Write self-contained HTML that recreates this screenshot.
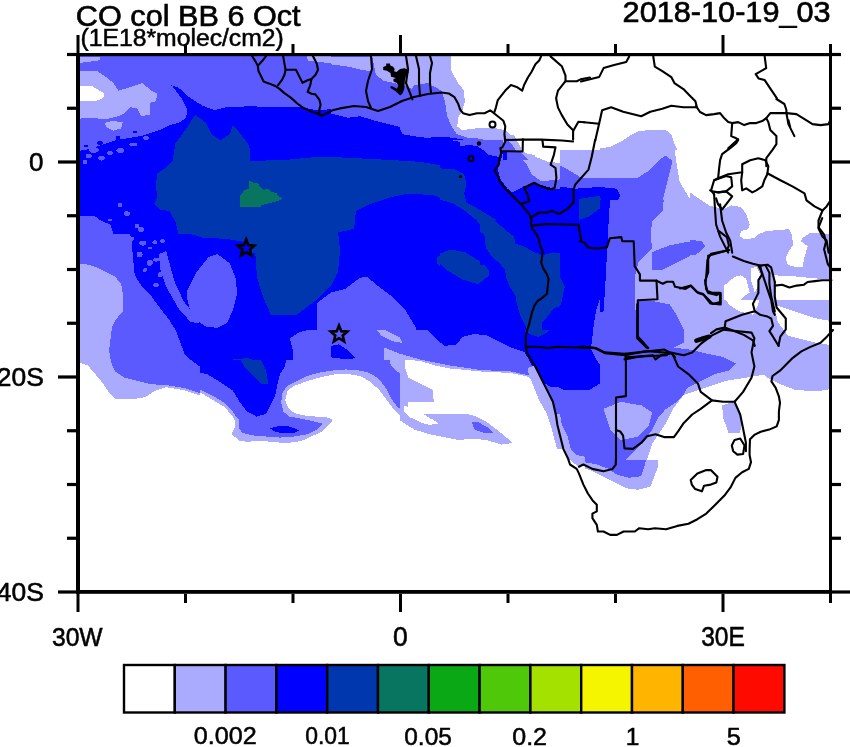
<!DOCTYPE html><html><head><meta charset="utf-8"><style>html,body{margin:0;padding:0;background:#fff;}svg{display:block}text{font-family:"Liberation Sans",sans-serif;fill:#000}</style></head><body>
<svg width="850" height="747" viewBox="0 0 850 747">
<defs>
<clipPath id="c0"><rect x="76" y="53" width="255" height="181"/></clipPath>
<clipPath id="c1"><rect x="76" y="234" width="255" height="180"/></clipPath>
<clipPath id="c2"><rect x="331" y="53" width="254" height="181"/></clipPath>
<clipPath id="c3"><rect x="585" y="53" width="247" height="181"/></clipPath>
<clipPath id="c4"><rect x="331" y="302" width="254" height="112"/></clipPath>
<clipPath id="c5"><rect x="585" y="234" width="247" height="180"/></clipPath>
<clipPath id="c6"><rect x="76" y="414" width="255" height="181"/></clipPath>
<clipPath id="c7"><rect x="331" y="414" width="254" height="181"/></clipPath>
<clipPath id="c8"><rect x="585" y="414" width="247" height="181"/></clipPath>
<clipPath id="c9"><rect x="331" y="150" width="254" height="152"/></clipPath>
<clipPath id="c10"><rect x="431" y="56" width="154" height="84"/></clipPath>
<clipPath id="c11"><rect x="460" y="140" width="140" height="100"/></clipPath>
<clipPath id="c12"><rect x="200" y="360" width="200" height="100"/></clipPath>
<clipPath id="c13"><rect x="250" y="150" width="190" height="180"/></clipPath>
<clipPath id="c14"><rect x="440" y="150" width="120" height="92"/></clipPath>
<clipPath id="c15"><rect x="480" y="220" width="80" height="110"/></clipPath>
<clipPath id="c16"><rect x="560" y="150" width="170" height="250"/></clipPath>
<clipPath id="c17"><rect x="600" y="200" width="232" height="260"/></clipPath>
<clipPath id="c18"><rect x="690" y="190" width="142" height="110"/></clipPath>
<clipPath id="c19"><rect x="500" y="360" width="100" height="100"/></clipPath>
<clipPath id="c20"><rect x="390" y="400" width="60" height="30"/></clipPath>
<clipPath id="c21"><rect x="503" y="135" width="32" height="25"/></clipPath>
<clipPath id="c22"><rect x="370" y="56" width="67" height="40"/></clipPath>
<clipPath id="c23"><rect x="230" y="170" width="70" height="45"/></clipPath>
</defs>
<g shape-rendering="crispEdges">
<g clip-path="url(#c0)">
<rect x="76" y="53" width="255" height="181" fill="#5a5aff"/>
<polygon fill="#aaaaff" points="70.0,56.9 100.1,56.9 99.5,60.2 88.0,62.0 70.0,63.8"/>
<polygon fill="#aaaaff" points="70.0,70.5 97.1,71.1 106.1,77.1 113.6,83.1 118.2,90.6 128.7,87.6 137.7,84.6 142.9,83.1 145.9,86.1 151.3,90.6 157.3,93.7 155.8,101.2 149.8,102.7 149.8,114.7 140.8,116.2 137.7,108.7 130.2,107.2 124.2,113.2 118.2,116.2 106.1,119.3 91.1,117.8 70.0,119.3"/>
<polygon fill="#ffffff" points="70.0,86.7 91.1,85.5 97.1,89.1 104.6,93.7 103.1,98.2 95.6,101.2 70.0,101.2"/>
<polygon fill="#aaaaff" points="104.6,122.9 112.1,120.8 122.7,122.3 121.2,128.3 113.6,130.7 106.1,126.8"/>
<polygon fill="#aaaaff" points="304.9,47.0 338.0,47.0 338.0,63.5 316.9,62.0 307.9,60.5"/>
<polygon fill="#0000ff" points="70.0,152.4 88.0,149.4 97.1,146.4 106.1,143.4 115.2,140.3 124.2,138.8 133.2,137.3 142.3,135.8 151.3,132.8 160.3,129.8 169.4,125.3 179.9,122.3 185.9,117.8 187.4,110.2 181.4,98.2 172.4,86.1 169.4,84.6 178.4,87.6 190.4,98.2 202.5,105.7 214.5,110.2 226.6,107.2 238.6,107.2 250.7,105.7 262.7,107.2 280.8,107.2 298.9,106.6 316.9,110.2 338.0,108.7 338.0,239.7 70.0,239.7"/>
<polygon fill="#5a5aff" points="70.0,217.1 94.1,215.6 100.1,220.2 110.6,224.7 115.2,239.7 70.0,239.7"/>
<polygon fill="#0036ae" points="195.0,114.7 205.5,122.3 211.5,134.3 220.6,140.3 229.6,134.3 232.6,125.3 238.6,131.3 247.7,143.4 253.7,158.4 268.8,158.4 286.8,156.9 304.9,153.9 323.0,152.4 338.0,152.4 338.0,239.7 179.9,239.7 175.4,221.7 169.4,211.1 160.3,209.6 154.3,203.6 157.3,197.6 155.8,185.5 157.3,173.5 166.4,167.4 172.4,161.4 175.4,143.4 184.4,131.3 190.4,122.3"/>
<polygon fill="#0000ff" points="307.9,227.7 316.9,224.7 326.0,226.2 338.0,227.7 338.0,239.7 307.9,239.7"/>
</g>
<g clip-path="url(#c1)">
<rect x="76" y="234" width="255" height="180" fill="#5a5aff"/>
<polygon fill="#aaaaff" points="70.0,263.1 88.0,264.6 97.1,267.6 106.1,272.2 115.2,276.7 121.2,284.2 122.7,293.2 122.7,311.3 115.2,320.3 112.1,326.4 110.6,338.4 109.1,350.5 110.6,359.5 112.1,365.5 115.2,371.5 124.2,377.6 136.2,380.6 148.3,383.6 160.3,385.1 166.4,385.1 184.4,388.1 202.5,394.1 217.6,401.1 229.6,409.2 234.1,419.7 70.0,419.7"/>
<polygon fill="#ffffff" points="70.0,359.5 88.0,365.5 95.6,374.6 103.1,383.6 109.1,392.6 115.2,398.6 136.2,398.6 145.3,397.1 154.3,391.1 166.4,387.2 184.4,390.2 202.5,396.2 217.6,403.8 228.1,411.3 231.1,419.7 70.0,419.7"/>
<polygon fill="#aaaaff" points="282.3,419.7 286.8,398.6 298.9,386.0 313.9,377.6 338.0,374.0 338.0,419.7"/>
<polygon fill="#ffffff" points="288.3,419.7 292.8,401.7 304.9,390.2 316.9,385.4 338.0,382.4 338.0,419.7"/>
<polygon fill="#0000ff" points="128.7,227.0 131.7,242.0 133.2,260.1 134.7,275.2 142.3,287.2 151.3,296.2 160.3,308.3 169.4,320.3 175.4,329.4 179.9,341.4 184.4,353.5 190.4,359.5 202.5,368.5 214.5,377.6 226.6,386.6 238.6,398.6 247.7,407.7 253.7,419.7 276.3,419.7 279.3,401.7 286.8,383.6 292.8,365.5 292.8,350.5 289.8,338.4 298.9,332.4 310.9,329.4 318.4,323.4 318.4,299.3 338.0,296.2 338.0,227.0"/>
<polygon fill="#5a5aff" points="187.4,290.2 196.5,272.2 208.5,257.1 217.6,254.1 229.6,263.1 235.6,278.2 237.1,293.2 232.6,311.3 226.6,323.4 217.6,327.9 205.5,326.4 196.5,320.3 190.4,311.3 187.4,299.3"/>
<polygon fill="#5a5aff" points="158.8,254.1 166.4,251.1 169.4,263.1 175.4,284.2 184.4,302.3 196.5,317.3 199.5,323.4 190.4,321.8 178.4,308.3 166.4,287.2 160.3,269.1"/>
<polygon fill="#0036ae" points="187.4,227.0 187.4,233.0 202.5,237.5 226.6,239.0 244.7,242.0 253.7,251.1 256.7,263.1 258.2,278.2 259.7,293.2 265.7,305.3 277.8,314.3 292.8,312.8 304.9,305.3 316.9,296.2 338.0,290.2 338.0,227.0"/>
<polygon fill="#0036ae" points="232.6,359.5 247.7,358.0 259.7,362.5 265.7,371.5 267.2,382.1 256.7,380.6 247.7,371.5 238.6,365.5"/>
</g>
<g clip-path="url(#c2)">
<rect x="331" y="53" width="254" height="181" fill="#5a5aff"/>
<polygon fill="#aaaaff" points="324.0,56.9 370.7,56.9 370.7,71.1 360.1,69.6 348.1,66.6 324.0,63.5"/>
<polygon fill="#aaaaff" points="427.9,56.9 450.5,56.9 450.5,89.1 438.4,89.1 430.9,83.1"/>
<polygon fill="#0000ff" points="324.0,111.7 348.1,117.8 360.1,116.2 375.2,120.8 399.3,126.8 402.3,134.3 420.4,137.3 444.4,138.8 459.5,141.8 592.0,143.4 592.0,239.7 324.0,239.7"/>
</g>
<g clip-path="url(#c3)">
<rect x="585" y="53" width="247" height="181" fill="#ffffff"/>
<polygon fill="#aaaaff" points="578.0,155.4 596.0,149.4 611.1,146.4 623.2,140.3 632.2,134.3 638.2,131.3 650.3,129.8 665.3,129.8 671.3,134.3 674.4,143.4 680.4,155.4 680.4,167.4 680.4,179.5 683.4,191.5 692.4,200.6 701.5,209.6 707.5,221.7 710.5,239.7 578.0,239.7"/>
<polygon fill="#aaaaff" points="722.5,209.6 734.6,205.1 743.6,209.6 749.6,221.7 749.6,229.2 737.6,232.2 725.6,239.7 722.5,233.7"/>
<polygon fill="#aaaaff" points="761.7,232.2 794.8,230.7 794.8,239.7 761.7,239.7"/>
<polygon fill="#5a5aff" points="578.0,179.5 602.1,173.5 620.1,170.5 638.2,164.4 653.3,156.9 665.3,155.4 674.4,161.4 674.4,173.5 671.3,185.5 668.3,194.6 665.3,206.6 659.3,221.7 653.3,239.7 578.0,239.7"/>
<polygon fill="#0000ff" points="578.0,185.5 596.0,185.5 608.1,185.5 617.1,187.0 621.6,191.5 620.1,197.6 614.1,203.6 611.1,212.6 605.1,221.7 602.1,239.7 578.0,239.7"/>
<polygon fill="#0036ae" points="578.0,194.6 596.0,194.6 605.1,197.6 605.1,209.6 599.1,221.7 596.0,239.7 578.0,239.7"/>
</g>
<g clip-path="url(#c4)">
<rect x="331" y="302" width="254" height="112" fill="#0000ff"/>
<polygon fill="#0036ae" points="486.6,227.0 592.0,227.0 592.0,272.2 577.0,278.2 570.9,293.2 567.9,308.3 558.9,323.4 546.8,332.4 537.8,336.9 525.8,332.4 519.7,323.4 516.7,308.3 507.7,293.2 498.7,278.2 489.6,257.1"/>
<polygon fill="#5a5aff" points="324.0,293.2 342.0,291.7 354.1,287.2 360.1,278.2 366.1,276.7 378.2,284.2 390.2,293.2 402.3,302.3 411.3,311.3 417.3,320.3 426.4,329.4 435.4,338.4 444.4,345.9 456.5,344.4 462.5,336.9 474.6,333.9 486.6,335.4 498.7,341.4 510.7,347.4 524.3,352.0 528.8,359.5 534.8,371.5 540.8,380.6 549.9,386.6 564.9,388.1 592.0,389.6 592.0,419.7 324.0,419.7"/>
<polygon fill="#0000ff" points="324.0,347.4 339.0,344.4 348.1,350.5 355.6,358.0 348.1,359.5 324.0,356.5"/>
<polygon fill="#aaaaff" points="375.2,327.9 387.2,330.9 399.3,336.9 402.3,342.9 393.2,341.4 381.2,335.4"/>
<polygon fill="#aaaaff" points="384.2,347.4 399.3,353.5 420.4,359.5 450.5,365.5 480.6,370.0 510.7,371.5 525.8,374.6 534.8,377.6 540.8,389.6 546.8,401.7 552.9,419.7 399.3,419.7 396.3,401.7 390.2,389.6 387.2,374.6 384.2,359.5"/>
<polygon fill="#aaaaff" points="324.0,371.5 348.1,374.6 360.1,377.6 372.2,383.6 384.2,395.6 390.2,407.7 393.2,419.7 324.0,419.7"/>
<polygon fill="#ffffff" points="405.3,359.5 420.4,361.0 435.4,365.5 450.5,368.5 465.5,370.0 480.6,371.5 510.7,373.0 525.8,376.1 534.8,380.6 540.8,392.6 546.8,404.7 552.9,419.7 435.4,419.7 433.9,401.7 432.4,389.6 420.4,383.6 408.3,377.6 405.3,368.5"/>
<polygon fill="#ffffff" points="324.0,380.6 345.1,382.1 360.1,385.1 372.2,392.6 381.2,404.7 384.2,419.7 324.0,419.7"/>
<polygon fill="#ffffff" points="408.3,401.7 433.9,401.7 435.4,419.7 406.8,419.7"/>
</g>
<g clip-path="url(#c5)">
<rect x="585" y="234" width="247" height="180" fill="#aaaaff"/>
<polygon fill="#5a5aff" points="578.0,227.0 651.8,227.0 648.8,245.0 656.3,252.6 674.4,246.6 689.4,240.5 703.0,242.0 704.5,249.6 692.4,258.6 674.4,267.6 656.3,272.2 644.2,278.2 636.7,281.2 636.7,300.8 656.3,303.8 668.3,308.3 674.4,320.3 677.4,332.4 689.4,341.4 698.4,350.5 713.5,356.5 728.6,359.5 734.6,365.5 722.5,373.0 704.5,380.6 689.4,386.6 674.4,395.6 656.3,401.7 635.2,404.7 617.1,410.7 614.1,419.7 578.0,419.7"/>
<polygon fill="#0000ff" points="578.0,227.0 602.1,227.0 606.6,245.0 605.1,263.1 602.1,281.2 600.6,299.3 596.0,311.3 596.0,323.4 590.0,335.4 587.0,347.4 587.0,359.5 590.0,371.5 587.0,383.6 578.0,389.6"/>
<polygon fill="#ffffff" points="737.6,227.0 764.7,227.0 761.7,237.5 746.6,239.0"/>
<polygon fill="#ffffff" points="788.8,227.0 812.9,227.0 815.9,242.0 806.9,251.1 803.9,263.1 794.8,269.1 785.8,263.1 782.8,251.1 788.8,242.0"/>
<polygon fill="#ffffff" points="731.6,275.2 743.6,278.2 752.7,284.2 752.7,299.3 746.6,308.3 734.6,309.8 725.6,305.3 722.5,293.2 728.6,284.2"/>
<polygon fill="#ffffff" points="776.8,281.2 846.0,281.2 846.0,299.3 812.9,297.8 794.8,299.3 791.8,311.3 797.8,326.4 800.8,338.4 791.8,345.9 779.8,344.4 775.2,323.4"/>
<polygon fill="#ffffff" points="809.9,317.3 846.0,314.3 846.0,335.4 818.9,329.4"/>
<polygon fill="#ffffff" points="713.5,377.6 734.6,371.5 752.7,374.6 764.7,380.6 779.8,383.6 776.8,395.6 764.7,401.7 749.6,404.7 740.6,419.7 674.4,419.7 680.4,404.7 698.4,395.6 710.5,386.6"/>
<polygon fill="#ffffff" points="794.8,389.6 812.9,383.6 846.0,386.6 846.0,401.7 812.9,407.7 794.8,401.7"/>
</g>
<g clip-path="url(#c6)">
<rect x="76" y="414" width="255" height="181" fill="#ffffff"/>
<polygon fill="#aaaaff" points="232.6,407.0 338.0,407.0 338.0,419.0 330.5,425.0 323.0,428.1 316.9,431.1 310.9,434.1 298.9,437.1 286.8,441.6 271.8,443.1 256.7,441.6 244.7,440.1 235.6,441.6 231.1,434.1 234.1,425.0"/>
<polygon fill="#5a5aff" points="238.6,407.0 316.9,407.0 313.9,419.0 307.9,425.0 310.9,429.6 298.9,434.1 286.8,437.1 271.8,438.6 256.7,437.1 244.7,434.1 240.1,428.1 238.6,419.0"/>
<polygon fill="#0000ff" points="247.7,407.0 265.7,407.0 262.7,417.5 250.7,417.5"/>
<polygon fill="#0000ff" points="268.8,426.6 280.8,425.0 292.8,428.1 298.9,432.6 286.8,434.1 274.8,431.1"/>
</g>
<g clip-path="url(#c7)">
<rect x="331" y="414" width="254" height="181" fill="#ffffff"/>
<polygon fill="#aaaaff" points="393.2,407.0 435.4,407.0 450.5,414.5 462.5,413.0 474.6,416.0 486.6,422.0 498.7,431.1 507.7,438.6 512.2,443.1 501.7,444.6 486.6,440.1 471.6,438.6 459.5,440.1 444.4,437.1 429.4,434.1 414.3,429.6 402.3,422.0 394.8,416.0"/>
<polygon fill="#ffffff" points="420.4,417.5 432.4,419.0 438.4,423.5 429.4,425.0 420.4,422.0"/>
<polygon fill="#5a5aff" points="471.6,422.0 477.6,422.0 486.6,426.6 492.6,432.6 483.6,432.6 474.6,429.6"/>
<polygon fill="#aaaaff" points="554.4,407.0 592.0,407.0 592.0,467.2 577.0,465.7 567.9,458.2 561.9,446.1 558.9,431.1 555.9,419.0"/>
<polygon fill="#5a5aff" points="558.9,407.0 592.0,407.0 592.0,458.2 577.0,455.2 570.9,449.1 567.9,437.1 561.9,425.0"/>
</g>
<g clip-path="url(#c8)">
<rect x="585" y="414" width="247" height="181" fill="#ffffff"/>
<polygon fill="#aaaaff" points="578.0,407.0 674.4,407.0 671.3,422.0 665.3,431.1 659.3,440.1 657.8,452.2 657.8,467.2 653.3,479.3 650.3,486.8 638.2,489.8 626.2,488.3 614.1,482.3 602.1,476.2 590.0,470.2 578.0,465.7"/>
<polygon fill="#5a5aff" points="578.0,407.0 665.3,407.0 659.3,422.0 650.3,428.1 647.2,434.1 644.2,443.1 647.2,455.2 644.2,467.2 641.2,476.2 629.2,477.8 617.1,474.7 608.1,468.7 596.0,464.2 578.0,461.2"/>
<polygon fill="#aaaaff" points="602.1,419.0 617.1,419.0 620.1,431.1 620.1,443.1 614.1,452.2 609.6,449.1 608.1,437.1 602.1,428.1"/>
<polygon fill="#aaaaff" points="725.6,407.0 737.6,407.0 740.6,425.0 743.6,431.1 734.6,432.6 727.1,429.6 724.0,422.0"/>
</g>
<g clip-path="url(#c9)">
<rect x="331" y="150" width="254" height="152" fill="#0000ff"/>
<polygon fill="#5a5aff" points="396.3,114.0 592.0,114.0 592.0,150.1 462.5,150.1 450.5,142.6 429.4,138.7 405.3,138.7"/>
<polygon fill="#0036ae" points="324.0,155.5 348.1,157.6 366.1,156.1 390.2,157.6 408.3,156.1 420.4,160.7 438.4,165.2 450.5,171.2 462.5,177.2 468.5,184.8 465.5,192.3 464.0,198.3 474.6,204.3 486.6,207.3 498.7,210.4 510.7,213.4 522.8,219.4 528.8,225.4 540.8,231.4 558.9,234.4 592.0,234.4 592.0,306.7 324.0,306.7"/>
<polygon fill="#0000ff" points="324.0,228.4 348.1,222.4 357.1,213.4 375.2,204.3 393.2,195.3 411.3,192.3 429.4,195.3 450.5,199.8 465.5,207.3 477.6,216.4 486.6,228.4 492.6,240.5 489.6,252.5 486.6,261.6 489.6,270.6 492.6,282.6 498.7,294.7 501.7,306.7 324.0,306.7"/>
<polygon fill="#0036ae" points="435.4,255.5 450.5,249.5 465.5,252.5 480.6,261.6 489.6,270.6 486.6,279.6 477.6,284.1 462.5,279.6 447.5,270.6 438.4,261.6"/>
<polygon fill="#5a5aff" points="324.0,273.6 348.1,276.6 366.1,279.6 384.2,288.7 390.2,306.7 324.0,306.7"/>
</g>
<g clip-path="url(#c10)">
<rect x="431" y="56" width="154" height="84" fill="#5a5aff"/>
<polygon fill="#aaaaff" points="431.9,49.2 431.9,85.0 441.3,90.6 445.1,101.9 446.9,115.1 450.7,124.5 456.4,133.9 467.6,137.7 478.9,138.6 492.1,141.5 501.5,147.1 509.1,150.9 516.6,154.6 527.9,158.4 542.9,162.2 554.2,165.9 565.5,177.2 593.8,177.2 593.8,49.2"/>
<polygon fill="#ffffff" points="450.7,49.2 450.7,58.6 451.6,71.8 458.2,83.1 463.9,90.6 464.8,101.9 462.0,111.4 458.2,117.0 457.3,126.4 462.0,130.2 477.1,128.3 492.1,127.4 505.3,130.2 510.9,135.8 518.5,141.5 524.1,150.9 535.4,155.6 550.5,160.3 561.8,164.1 573.1,158.4 593.8,152.8 593.8,49.2"/>
<polygon fill="#0000ff" points="426.2,137.7 441.3,136.8 452.6,137.7 463.9,139.6 475.2,142.4 482.7,149.0 490.2,150.9 501.5,154.6 509.1,165.9 512.8,177.2 426.2,177.2"/>
</g>
<g clip-path="url(#c11)">
<rect x="460" y="140" width="140" height="100" fill="#0000ff"/>
<polygon fill="#5a5aff" points="456.7,136.7 603.3,136.7 603.3,186.1 588.5,188.6 575.3,188.6 562.1,189.4 552.2,189.4 539.1,186.9 532.5,184.5 525.9,179.5 519.3,172.9 514.4,168.0 509.4,163.1 502.8,156.5 499.5,153.2 492.9,153.2 484.7,151.5 478.1,146.6 469.9,144.9 456.7,146.6"/>
<polygon fill="#aaaaff" points="504.5,136.7 603.3,136.7 603.3,179.5 588.5,179.5 578.6,181.2 575.3,177.9 567.1,172.9 555.5,168.0 542.4,163.1 529.2,158.1 514.4,153.2 506.1,149.9"/>
<polygon fill="#ffffff" points="522.6,136.7 603.3,136.7 603.3,151.5 588.5,156.5 575.3,158.1 565.4,163.1 557.2,164.7 552.2,161.4 539.1,158.1 529.2,154.8 522.6,151.5"/>
<polygon fill="#0036ae" points="456.7,173.8 466.6,179.5 468.2,187.8 464.9,196.0 469.9,202.6 481.4,205.9 491.3,212.5 497.9,220.7 504.5,228.9 512.7,237.2 516.0,242.1 456.7,242.1"/>
<polygon fill="#0036ae" points="578.6,202.6 588.5,197.6 603.3,194.4 603.3,225.6 588.5,224.0 581.9,219.1 578.6,210.8"/>
</g>
<g clip-path="url(#c12)">
<rect x="200" y="360" width="200" height="100" fill="#ffffff"/>
<polygon fill="#aaaaff" points="195.3,355.3 404.7,355.3 404.7,417.6 400.0,415.3 392.9,408.2 385.9,398.8 378.8,389.4 369.4,381.2 360.0,376.0 345.9,373.6 336.5,374.1 322.4,376.9 308.2,380.7 294.1,385.9 287.5,390.6 285.2,400.0 288.2,408.2 294.1,412.9 303.5,415.3 315.3,416.5 328.2,417.6 332.9,420.0 328.2,425.4 322.4,431.1 312.9,435.8 303.5,440.0 294.1,442.4 282.4,442.8 270.6,441.9 261.2,440.5 247.1,441.9 238.8,440.5 231.8,434.1 235.3,425.9 235.3,421.2 232.0,415.1 223.5,406.4 212.7,400.0 202.1,393.4 195.3,391.1"/>
<polygon fill="#5a5aff" points="195.3,355.3 404.7,355.3 404.7,411.8 397.6,407.1 390.6,397.6 385.9,388.2 378.8,378.8 369.4,372.9 360.0,370.6 345.9,369.4 331.8,370.6 317.6,372.9 305.9,376.5 296.5,381.2 287.1,385.9 282.4,392.9 281.2,402.4 283.5,411.8 289.4,416.5 301.2,418.8 312.9,421.2 322.4,423.5 317.6,429.4 308.2,434.1 294.1,436.5 280.0,437.6 265.9,436.5 251.8,435.3 242.4,432.9 238.8,428.2 238.8,418.8 236.5,417.2 232.0,410.6 223.5,402.1 212.7,395.8 202.1,390.4 195.3,388.2"/>
<polygon fill="#aaaaff" points="388.2,355.3 404.7,355.3 404.7,376.5 397.6,371.8 390.6,364.7"/>
<polygon fill="#0000ff" points="195.3,355.3 287.1,355.3 284.7,367.1 280.0,374.1 277.6,383.5 275.3,395.3 270.6,404.7 265.9,414.1 256.5,416.5 247.1,411.8 240.0,402.4 232.9,390.6 218.8,381.2 207.1,374.1 195.3,371.8"/>
<polygon fill="#0036ae" points="237.6,355.3 258.8,355.3 265.9,369.4 268.2,383.5 261.2,383.5 254.1,376.5 244.7,367.1"/>
<polygon fill="#0000ff" points="269.4,428.2 277.6,426.4 287.1,425.9 294.1,428.2 298.8,430.6 294.1,432.9 284.7,433.4 275.3,431.8"/>
</g>
<g clip-path="url(#c13)">
<rect x="250" y="150" width="190" height="180" fill="#0000ff"/>
<polygon fill="#0036ae" points="242.9,161.1 285.3,160.0 320.6,156.5 355.9,158.2 391.2,160.0 419.4,161.8 440.6,165.3 447.6,168.8 447.6,200.6 433.5,195.3 408.8,193.5 391.2,197.1 370.0,204.1 355.9,211.2 354.1,228.8 338.2,232.4 340.0,250.0 338.2,271.2 331.2,285.3 317.1,299.4 295.9,315.3 271.2,315.3 264.1,299.4 257.1,278.2 255.3,253.5 242.9,250.0"/>
<polygon fill="#0036ae" points="437.1,257.1 451.2,250.0 468.8,253.5 482.9,264.1 490.0,271.2 486.5,278.2 475.9,285.3 461.8,278.2 447.6,271.2 437.1,264.1"/>
<polygon fill="#5a5aff" points="317.1,348.8 317.1,302.9 331.2,292.4 345.3,288.8 359.4,278.2 366.5,276.5 377.1,285.3 391.2,295.9 405.3,310.0 415.9,327.6 419.4,348.8"/>
</g>
<g clip-path="url(#c14)">
<rect x="440" y="150" width="120" height="92" fill="#0000ff"/>
<polygon fill="#0036ae" points="435.2,168.1 454.5,169.3 464.1,174.1 466.5,183.7 464.1,193.4 466.5,203.0 476.1,207.8 488.2,215.1 500.2,222.3 512.3,231.9 524.3,241.6 536.4,251.2 485.8,251.2 483.4,229.5 476.1,219.9 464.1,210.2 452.0,203.0 435.2,198.2"/>
<polygon fill="#5a5aff" points="478.6,145.2 505.1,145.2 500.2,157.2 488.2,154.8"/>
<polygon fill="#5a5aff" points="501.4,145.2 565.3,145.2 565.3,189.8 553.3,188.6 536.4,183.7 524.3,186.1 512.3,192.2 507.5,188.6 500.2,178.9 497.8,169.3 503.9,150.0"/>
<polygon fill="#aaaaff" points="512.3,145.2 565.3,145.2 565.3,178.9 541.2,181.3 531.6,174.1 526.7,164.5 519.5,157.2"/>
<polygon fill="#ffffff" points="526.7,145.2 565.3,145.2 565.3,163.3 548.4,162.0 536.4,157.2 526.7,152.4"/>
</g>
<g clip-path="url(#c15)">
<rect x="480" y="220" width="80" height="110" fill="#0000ff"/>
<polygon fill="#0036ae" points="494.7,217.1 494.7,220.0 499.2,224.4 509.5,233.3 513.9,236.2 515.4,243.6 524.2,246.5 531.6,250.9 538.9,253.9 541.9,255.4 553.7,252.4 562.5,253.9 562.5,305.5 553.7,308.4 549.2,314.3 541.9,323.1 541.9,332.0 527.9,332.0 524.2,323.1 519.8,314.3 516.8,304.0 515.4,295.1 509.5,286.3 506.5,278.9 505.0,270.1 499.2,262.7 491.8,256.8 485.9,248.0 484.4,234.7 480.0,231.8 477.1,231.8 477.1,217.1"/>
<polygon fill="#0036ae" points="477.1,264.2 484.4,264.9 488.8,270.1 488.8,276.0 484.4,278.9 481.5,281.9 477.1,281.9"/>
</g>
<g clip-path="url(#c16)">
<rect x="560" y="150" width="170" height="250" fill="#aaaaff"/>
<polygon fill="#ffffff" points="672.6,133.0 738.7,133.0 738.7,230.4 717.8,227.0 703.9,213.0 690.0,199.1 679.6,181.7 676.1,160.9"/>
<polygon fill="#5a5aff" points="523.0,160.9 543.9,157.4 564.8,167.8 582.2,178.3 599.6,178.3 617.0,178.3 637.8,177.9 650.0,169.9 660.1,159.1 665.7,155.7 672.6,160.9 669.1,174.8 665.7,188.7 662.2,202.6 655.2,216.5 651.7,230.4 655.2,244.3 665.7,254.8 676.1,247.8 693.5,242.6 703.9,244.3 700.4,254.8 690.0,258.3 669.1,261.7 655.2,268.7 644.8,279.1 641.3,289.6 644.8,296.5 662.2,303.5 672.6,310.4 679.6,320.9 676.1,334.8 679.6,345.2 693.5,348.7 703.9,355.7 717.8,359.1 738.7,362.6 738.7,407.8 523.0,407.8"/>
<polygon fill="#0000ff" points="523.0,183.5 550.9,185.2 575.2,188.7 599.6,187.0 617.0,188.7 620.4,195.7 613.5,209.6 604.8,223.5 603.0,237.4 604.8,251.3 606.5,272.2 603.0,286.1 599.6,300.0 596.1,310.4 594.3,320.9 592.6,334.8 590.9,348.7 596.1,359.1 603.0,369.6 599.6,383.5 589.1,390.4 564.8,390.4 550.9,383.5 540.4,376.5 523.0,369.6"/>
<polygon fill="#0036ae" points="523.0,240.9 543.9,251.3 550.9,258.3 557.8,272.2 564.8,286.1 561.3,303.5 550.9,320.9 543.9,334.8 537.0,345.2 523.0,348.7"/>
<polygon fill="#0036ae" points="578.7,199.1 599.6,195.7 603.0,206.1 589.1,216.5 578.7,220.0"/>
</g>
<g clip-path="url(#c17)">
<rect x="600" y="200" width="232" height="260" fill="#aaaaff"/>
<polygon fill="#5a5aff" points="593.0,193.0 664.4,193.0 662.7,210.4 652.2,220.9 650.5,234.8 652.2,248.7 638.3,262.7 634.8,276.6 634.8,304.4 638.3,332.3 641.8,349.7 593.0,349.7"/>
<polygon fill="#5a5aff" points="652.2,252.2 669.6,245.3 687.0,241.8 704.4,241.1 706.2,248.7 690.5,255.7 676.6,262.7 662.7,269.6 652.2,269.6"/>
<polygon fill="#5a5aff" points="638.3,301.0 652.2,301.0 669.6,304.4 676.6,314.9 683.6,328.8 683.6,342.7 669.6,349.7 638.3,349.7"/>
<polygon fill="#5a5aff" points="593.0,346.2 676.6,348.0 690.5,349.7 704.4,353.2 721.9,356.7 735.8,363.6 728.8,370.6 714.9,374.1 701.0,381.0 687.0,388.0 683.6,395.0 676.6,401.9 666.1,408.9 659.2,415.9 652.2,429.8 641.8,443.7 634.8,450.7 620.9,464.6 593.0,464.6"/>
<polygon fill="#aaaaff" points="603.5,408.9 620.9,401.9 641.8,405.4 652.2,412.4 648.7,426.3 638.3,436.7 620.9,440.2 610.4,429.8"/>
<polygon fill="#0000ff" points="593.0,193.0 610.4,193.0 608.7,220.9 607.0,252.2 605.2,287.0 603.5,311.4 593.0,314.9"/>
<polygon fill="#ffffff" points="694.0,193.0 720.1,193.0 718.4,207.0 707.9,210.4 697.5,207.0"/>
<polygon fill="#ffffff" points="739.3,220.9 763.6,213.9 788.0,217.4 789.7,234.8 774.1,238.3 753.2,238.3 739.3,234.8"/>
<polygon fill="#ffffff" points="788.0,248.7 801.9,245.3 808.9,252.2 808.9,269.6 795.0,273.1 788.0,266.1"/>
<polygon fill="#ffffff" points="725.3,283.6 739.3,276.6 753.2,273.1 760.1,287.0 758.4,304.4 753.2,314.9 739.3,311.4 728.8,304.4 721.9,294.0"/>
<polygon fill="#ffffff" points="788.0,283.6 808.9,280.1 836.7,283.6 836.7,301.0 808.9,297.5 795.0,294.0"/>
<polygon fill="#ffffff" points="774.1,304.4 795.0,311.4 815.9,318.4 836.7,321.9 836.7,346.2 815.9,342.7 801.9,339.3 788.0,335.8 777.6,321.9"/>
<polygon fill="#ffffff" points="683.6,395.0 704.4,388.0 725.3,381.0 746.2,377.6 767.1,374.1 781.0,381.0 795.0,388.0 815.9,389.7 836.7,388.0 836.7,464.6 645.3,464.6 652.2,443.7 666.1,422.8 673.1,408.9"/>
<polygon fill="#aaaaff" points="756.7,367.1 774.1,363.6 795.0,360.1 815.9,358.4 836.7,356.7 836.7,388.0 815.9,391.5 795.0,389.7 781.0,384.5 767.1,377.6"/>
<polygon fill="#aaaaff" points="721.9,405.4 732.3,401.9 739.3,408.9 742.7,422.8 739.3,433.3 728.8,433.3 723.6,419.3"/>
</g>
<g clip-path="url(#c18)">
<rect x="690" y="190" width="142" height="110" fill="#aaaaff"/>
<polygon fill="#ffffff" points="710.5,186.6 835.0,186.6 835.0,232.6 828.2,234.4 819.6,232.6 809.4,233.5 802.6,237.8 800.9,241.2 807.7,246.3 804.3,258.2 802.6,266.8 795.8,266.8 788.1,265.1 785.5,258.2 788.9,251.4 793.2,244.6 791.5,234.4 788.9,229.2 778.7,230.1 766.8,230.9 758.2,234.4 754.8,237.8 744.6,239.5 739.5,236.1 741.2,230.9 748.0,229.2 749.7,224.1 746.3,213.9 741.2,207.1 730.9,205.4 721.6,210.5 720.4,208.4 709.6,205.7 693.6,194.9 686.6,190.0 686.6,186.6"/>
<polygon fill="#ffffff" points="773.6,275.3 792.4,276.1 809.4,277.9 829.9,279.6 835.0,280.4 835.0,302.6 775.3,302.6"/>
<polygon fill="#ffffff" points="724.1,285.5 734.4,277.0 741.2,275.3 746.3,278.7 749.7,292.4 744.6,295.8 737.8,302.6 724.1,302.6"/>
<polygon fill="#ffffff" points="751.4,268.5 756.5,266.8 759.9,273.6 758.2,285.5 754.8,292.4 751.4,282.1"/>
<polygon fill="#5a5aff" points="686.6,239.5 701.9,241.2 705.4,246.3 700.2,251.4 695.1,254.8 686.6,254.8"/>
</g>
<g clip-path="url(#c19)">
<polygon fill="#aaaaff" points="528.0,368.0 534.8,365.5 540.8,377.6 546.8,389.6 552.9,401.7 555.9,414.9 557.4,425.0 560.4,437.1 563.4,449.1 557.0,449.0 552.0,430.0 547.0,414.0 539.0,400.0 533.0,385.0 528.0,372.0"/>
</g>
<g clip-path="url(#c20)">
<polygon fill="#ffffff" points="403.5,405.3 417.6,410.6 431.8,419.4 435.3,424.2 424.7,424.0 410.6,417.6 403.5,410.6"/>
</g>
<g clip-path="url(#c21)">
<polygon fill="#aaaaff" points="503.0,135.0 535.0,135.0 535.0,160.0 503.0,160.0"/>
<polygon fill="#ffffff" points="514.0,135.0 535.0,135.0 535.0,155.0 528.0,154.0 522.0,151.3 520.0,146.0 516.0,139.0"/>
<polygon fill="#5a5aff" points="505.8,140.4 509.1,141.3 512.9,145.5 514.8,148.8 516.5,151.2 521.0,152.5 525.0,156.0 528.0,160.0 503.0,160.0 502.0,148.0"/>
<polygon fill="#0000ff" points="503.0,152.0 507.0,152.5 507.0,160.0 503.0,160.0"/>
</g>
<g clip-path="url(#c22)">
<polygon fill="#aaaaff" points="372.0,56.0 437.0,56.0 437.0,85.0 430.0,86.0 420.0,85.0 412.0,89.0 408.0,87.0 394.0,83.0 384.0,81.0 376.0,75.0"/>
<polygon fill="#5a5aff" points="410.0,92.0 414.0,85.0 428.0,83.0 432.0,86.0 432.0,96.0 412.0,96.0"/>
</g>
<g clip-path="url(#c23)">
<polygon fill="#077560" points="240.1,195.4 244.8,189.8 248.5,188.8 248.5,182.2 249.9,179.9 251.4,182.2 257.9,183.2 259.8,186.9 263.6,189.8 268.3,188.4 271.1,191.6 276.8,193.5 278.6,196.4 282.9,198.2 280.5,200.1 273.9,202.0 266.4,203.9 260.8,205.3 260.8,206.7 240.1,206.7"/>
</g>
<ellipse cx="126.9" cy="213.8" rx="3" ry="2.5" fill="#5a5aff"/>
<ellipse cx="137.1" cy="226" rx="2.5" ry="2" fill="#5a5aff"/>
<ellipse cx="140.9" cy="229.5" rx="3" ry="2.5" fill="#5a5aff"/>
<ellipse cx="132" cy="238.8" rx="2.5" ry="2" fill="#5a5aff"/>
<ellipse cx="142.7" cy="243.1" rx="3.5" ry="2.5" fill="#5a5aff"/>
<ellipse cx="154.9" cy="242.3" rx="2.5" ry="2" fill="#5a5aff"/>
<ellipse cx="162.5" cy="241" rx="2.5" ry="2" fill="#5a5aff"/>
<ellipse cx="139.6" cy="254.5" rx="3" ry="3" fill="#5a5aff"/>
<ellipse cx="149.8" cy="262.7" rx="3" ry="3" fill="#5a5aff"/>
<ellipse cx="156.2" cy="259.6" rx="3" ry="2" fill="#5a5aff"/>
<ellipse cx="160" cy="274.9" rx="2.5" ry="2.5" fill="#5a5aff"/>
<ellipse cx="167.6" cy="280" rx="2.5" ry="2.5" fill="#5a5aff"/>
<ellipse cx="156.2" cy="285" rx="3" ry="2" fill="#5a5aff"/>
<ellipse cx="172.7" cy="292.7" rx="2.5" ry="2" fill="#5a5aff"/>
<ellipse cx="180.4" cy="302.9" rx="2.5" ry="2" fill="#5a5aff"/>
<ellipse cx="145" cy="270" rx="2" ry="2" fill="#5a5aff"/>
<ellipse cx="166" cy="268" rx="2" ry="1.5" fill="#5a5aff"/>
<ellipse cx="150" cy="248" rx="2" ry="1.5" fill="#5a5aff"/>
<ellipse cx="120" cy="205" rx="2.5" ry="2" fill="#5a5aff"/>
<ellipse cx="110" cy="220" rx="2" ry="1.5" fill="#5a5aff"/>
<ellipse cx="93.8" cy="150" rx="5" ry="3" fill="#5a5aff"/>
<ellipse cx="101.5" cy="158" rx="3.5" ry="2.5" fill="#5a5aff"/>
<ellipse cx="120.5" cy="150.5" rx="4" ry="2.5" fill="#5a5aff"/>
<ellipse cx="133.3" cy="144.5" rx="4" ry="2" fill="#5a5aff"/>
<ellipse cx="88.7" cy="156" rx="3" ry="2.5" fill="#5a5aff"/>
<ellipse cx="110" cy="153" rx="3" ry="2" fill="#5a5aff"/>
<ellipse cx="85" cy="162" rx="2.5" ry="2" fill="#5a5aff"/>
<ellipse cx="146" cy="138" rx="3" ry="2" fill="#5a5aff"/>
<ellipse cx="100" cy="143" rx="3" ry="2" fill="#0000ff"/>
<ellipse cx="118" cy="138" rx="2.5" ry="2" fill="#0000ff"/>
<ellipse cx="86" cy="146" rx="2" ry="1.5" fill="#0000ff"/>
<ellipse cx="135" cy="132" rx="2.5" ry="1.5" fill="#0000ff"/>
</g>
<g fill="none" stroke="#000" stroke-width="2.1" stroke-linejoin="round" stroke-linecap="round">
<polyline points="252.0,55.8 255.9,62.1 257.8,65.9 258.5,71.1 261.1,76.3 263.6,81.5 268.8,83.4 275.3,86.0 279.2,88.6 284.4,93.1 290.8,97.6 297.3,103.5 302.5,107.4 310.2,111.2 318.0,113.8 321.9,115.8 328.4,112.5 333.5,109.9 340.0,108.4 354.0,106.0 366.0,107.0 378.0,111.0 390.0,107.0 402.0,101.0 414.0,97.0 428.0,94.0 441.3,92.5 448.8,93.5 454.5,97.2 458.2,103.8 460.1,109.5 463.0,113.2 469.5,115.1 477.0,113.2 484.6,113.2 490.2,110.4 494.0,113.2 498.7,117.0 503.4,120.8 505.3,126.4 504.4,134.0 505.3,141.5 502.5,147.1 500.4,148.2 501.2,153.2 499.5,158.1 498.7,164.7 494.6,170.5 497.9,176.2 499.5,181.2 506.1,189.4 514.4,197.7 521.0,204.2 529.2,214.1 531.6,220.0 530.8,222.9 532.3,228.8 536.0,233.3 538.9,239.2 540.4,246.5 542.6,250.9 541.9,258.3 541.1,262.7 543.4,268.6 547.0,274.5 548.5,278.9 547.8,286.3 547.0,293.7 541.9,298.1 537.5,301.0 534.5,305.5 532.3,311.3 530.8,317.2 529.4,323.1 527.3,330.0 525.8,335.4 525.8,347.4 527.3,353.5 534.8,365.5 540.8,377.6 546.8,389.6 552.9,401.7 555.9,414.9 557.4,425.0 560.4,437.1 563.4,449.1 567.9,458.2 570.0,464.5 576.7,468.9 578.9,473.4 583.4,484.6 587.9,493.5 592.4,500.2 596.8,504.7 596.8,511.4 592.4,513.6 592.4,518.1 596.8,524.8 597.9,531.5 603.5,531.5 610.2,534.9 616.9,534.9 623.6,531.5 634.8,531.5 639.3,528.2 648.2,529.3 654.9,528.2 666.1,529.3 677.3,525.9 688.5,523.7 697.4,519.2 706.3,513.6 715.3,504.7 724.2,495.8 730.9,486.8 735.4,477.9 742.1,472.3 748.8,468.9 751.0,462.2 749.6,455.0 749.6,449.1 750.0,439.2 754.3,434.9 760.7,431.7 769.2,429.6 776.7,426.4 778.9,419.9 778.9,411.4 780.0,402.8 778.9,396.4 775.7,387.8 771.4,381.4 772.5,376.0 780.0,370.7 786.4,364.3 792.8,357.8 801.4,351.4 809.9,347.1 820.6,342.8 827.1,336.4 833.0,330.0"/>
<polyline points="266.2,55.8 262.4,60.8 258.7,64.9"/>
<polyline points="283.1,55.8 284.4,63.4 285.6,69.8 284.4,75.0 281.8,80.2 277.9,85.4"/>
<polyline points="285.6,69.8 296.0,69.8 299.9,77.6 302.5,82.8 307.6,80.2 311.5,78.9"/>
<polyline points="312.8,55.8 316.7,63.4 318.0,69.8 315.4,75.0 311.5,78.9 310.2,85.4 307.6,91.8 311.5,93.8 315.4,94.4 319.3,99.6 320.6,104.8 319.3,109.9 319.3,115.1"/>
<polyline points="371.0,56.0 372.0,69.0 368.0,81.0 366.0,91.0 368.0,101.0 371.0,108.0"/>
<polyline points="406.0,56.0 408.0,69.0 406.0,83.0 410.0,93.0 412.4,99.4"/>
<polyline points="416.0,56.0 419.0,69.0 419.0,83.0 420.0,96.0"/>
<polyline points="430.0,56.0 432.0,63.0 430.0,73.0 430.0,83.0 431.0,93.0"/>
<polyline points="494.0,113.2 495.9,107.6 497.8,100.1 505.3,90.6 510.9,85.0 516.6,86.9 522.2,90.6 524.1,85.0 527.9,77.5 531.6,71.8 535.4,64.3 539.2,60.5 541.1,56.4"/>
<polyline points="550.5,56.4 561.8,66.2 565.5,75.6 565.5,81.2 558.0,90.6 556.1,98.2 558.0,107.6 561.8,115.1 567.4,124.5 573.1,130.2 573.1,139.6"/>
<polyline points="565.5,81.2 576.8,81.2 580.6,79.4 590.0,77.5"/>
<polyline points="504.9,140.0 522.2,139.6 541.1,139.6 561.8,140.5 573.1,141.5"/>
<polyline points="501.2,151.2 522.6,151.5 522.9,139.2"/>
<polyline points="542.4,140.0 543.2,146.6 555.5,147.4 553.9,154.8 550.6,164.7 555.5,168.0 556.4,177.9 554.7,187.8 550.6,189.4 540.7,186.1 534.1,182.8 524.2,187.8 527.5,194.4 529.2,200.9 520.9,204.2"/>
<polyline points="595.1,140.0 591.8,156.5 588.5,169.6 575.3,184.5 573.6,189.4 573.6,202.6 567.1,209.2 558.8,214.1 552.2,210.8 547.3,212.5 539.1,212.5 534.1,215.8 530.5,217.4"/>
<polyline points="532.5,225.6 545.6,224.0 578.6,224.8 581.1,240.0"/>
<polyline points="579.9,241.3 584.0,242.3 588.1,247.5 596.4,248.5 606.8,247.5 609.9,238.2 621.3,237.1 622.3,241.3 633.7,241.3 634.7,266.1 639.9,274.4 639.9,280.6 656.5,280.6 657.5,299.3 637.8,300.3 637.8,336.5 648.2,347.9"/>
<polyline points="656.5,280.6 662.7,283.7 666.8,281.7 673.0,281.7 675.1,286.8 685.5,288.9 690.6,285.8 696.8,292.0 703.1,294.1 710.3,303.4 720.7,304.4 720.7,293.0 716.5,295.1 708.2,293.0 706.2,288.9"/>
<polyline points="706.2,288.9 705.1,280.6 708.2,272.3 708.2,255.8 726.9,250.6 728.9,245.4 726.9,237.1 718.6,230.9"/>
<polyline points="579.9,346.9 584.0,346.9 594.4,347.9 604.7,353.1 625.4,355.2 646.1,351.0 671.0,353.1 675.1,357.2"/>
<polyline points="625.4,357.2 646.1,356.2 666.8,355.2"/>
<polyline points="525.6,346.7 536.9,346.7 548.2,348.1 556.7,346.7 596.2,348.1 604.7,352.4 624.5,353.8 638.6,352.4 652.7,350.9 664.0,349.5 669.6,352.4 683.8,355.2 692.2,352.4 700.7,343.9 706.4,339.6 712.0,335.4 723.3,329.8"/>
<polyline points="624.5,359.4 638.6,356.6 652.7,355.2 655.5,359.4 661.2,355.2 669.6,353.8"/>
<polyline points="637.2,304.4 637.2,338.2 647.1,348.1"/>
<polyline points="625.9,353.8 625.9,396.1 616.0,397.5 616.0,460.2"/>
<polyline points="616.0,430.0 620.2,431.4 623.1,435.6 624.5,448.4 632.9,448.9 641.4,442.7 647.1,436.2 655.5,434.2 664.0,437.1 673.9,437.1 678.1,431.4 683.8,422.9 692.2,414.5 700.7,408.8 712.0,400.4"/>
<polyline points="672.5,353.8 678.1,366.5 689.4,374.9 697.9,383.4 700.7,391.9 712.0,400.4 723.3,401.8 734.6,401.8"/>
<polyline points="734.6,401.8 743.1,391.9 751.5,377.8 754.4,366.5 751.5,352.4 754.4,338.2 751.5,332.6 723.3,329.8"/>
<polyline points="734.6,401.8 740.2,414.5 743.1,428.6 745.9,442.7 745.9,451.2"/>
<polyline points="731.8,445.5 734.6,439.9 740.2,438.5 744.5,445.5 743.1,454.0 737.4,454.6 733.2,451.2 731.8,445.5"/>
<polyline points="729.2,250.1 711.0,253.7 707.4,260.1 706.4,274.7 705.5,283.8 707.4,291.1 712.8,292.9 720.1,292.9 720.1,302.1 712.8,303.9 709.2,300.2 703.7,294.8 698.2,292.9 690.9,285.6 680.0,288.4"/>
<polyline points="732.9,256.5 743.8,261.0 752.9,263.8 760.2,265.6 767.5,264.7 771.2,267.4 774.8,282.0"/>
<polyline points="758.4,265.6 762.1,272.9 763.9,278.4 767.5,289.3 771.2,300.2 773.0,311.2 774.8,314.8"/>
<polyline points="765.7,265.6 769.4,272.9 769.4,283.8 771.2,296.6 774.8,311.2"/>
<polyline points="760.2,265.6 762.1,274.7 758.4,280.2 758.4,292.9 752.9,303.9 754.8,311.2 760.2,314.8 767.5,316.6 771.2,318.5 773.0,325.8 769.4,331.2 773.0,336.7 778.5,345.8"/>
<polyline points="774.8,282.0 774.8,296.6 776.6,307.5 785.8,318.5 785.8,329.4 780.3,336.7 778.5,345.8"/>
<polyline points="774.8,285.6 782.1,284.7 789.4,287.5 796.7,285.6 804.0,284.7 807.6,282.0 814.9,281.1 822.2,280.2 831.4,280.2"/>
<polyline points="754.8,311.2 742.0,314.8 725.6,321.2 724.7,327.6 716.5,329.4 711.0,333.1"/>
<polyline points="724.7,327.6 734.7,331.2 743.8,334.9 752.9,340.4 754.8,345.8"/>
<polyline points="822.2,218.2 818.6,227.3 824.1,234.6 825.9,241.9 824.1,249.2 825.9,256.5 827.7,263.8 831.4,269.2"/>
<polyline points="764.7,56.6 766.2,68.1 755.7,74.1 758.7,78.6 764.7,80.1 770.7,89.1 776.8,98.2"/>
<polyline points="615.8,460.0 615.8,464.5 612.5,468.9 603.5,471.2 592.4,468.9 583.4,464.5 578.9,466.7"/>
<polyline points="690.7,480.1 697.4,473.4 706.3,470.1 710.8,470.1 717.5,476.8 716.4,482.4 710.8,484.6 704.1,485.7 701.9,491.3 695.2,489.1 691.8,484.6 690.7,480.1"/>
<polyline points="581.0,81.6 599.1,77.1 603.6,68.1 614.1,65.0 626.2,62.0 629.2,56.6"/>
<polyline points="653.3,56.6 654.8,66.6 662.3,71.1 671.3,77.1 674.4,83.1 683.4,89.1 689.4,95.2 695.4,101.2 696.9,107.2"/>
<polyline points="584.0,122.3 599.1,123.8 602.1,110.2 611.1,107.2 623.2,111.7 641.2,116.2 650.3,111.7 662.3,108.7 671.3,105.7 683.4,107.2 696.9,107.2"/>
<polyline points="599.1,123.8 596.0,137.3 595.4,140.3"/>
<polyline points="696.0,106.0 700.0,112.0 706.1,115.1 714.1,114.1 720.1,113.1 724.1,118.1 728.2,122.1 732.2,123.1 738.2,122.1 744.2,125.1 750.2,123.1 756.3,123.1 762.3,121.1 766.3,118.1 770.3,113.1 786.4,113.1 796.4,114.1 804.5,119.1 812.5,124.1 820.5,125.1 828.6,124.1 830.6,119.1"/>
<polyline points="732.2,123.1 731.2,136.1 736.2,138.2 738.2,140.2 736.2,143.2 730.2,148.2 722.1,154.2 720.1,160.2 719.1,168.3 718.1,178.3 714.1,180.3 711.1,190.4 714.1,194.4"/>
<polyline points="766.3,118.1 768.3,122.1 770.3,130.1 776.4,136.1 776.4,144.2 772.3,150.2 766.3,158.2 766.3,166.3"/>
<polyline points="742.2,164.3 750.2,160.2 758.3,158.2 765.3,160.2 768.3,166.3 767.3,174.3 764.3,180.3 762.3,186.4 756.3,190.4 752.3,192.4 746.2,188.4 742.2,190.4 741.2,180.3 742.2,172.3 742.2,164.3"/>
<polyline points="718.1,178.3 728.2,174.3 742.2,172.3"/>
<polyline points="767.3,173.3 780.4,180.3 792.4,186.4 804.5,193.4 806.5,200.4 814.5,206.4 822.5,210.5 826.6,206.4 830.6,200.4"/>
<polyline points="822.5,210.5 818.5,220.5 818.5,228.5 822.5,236.6 826.6,240.6 828.6,252.6"/>
<polyline points="714.1,180.3 726.1,175.9 731.2,177.3 732.2,186.4 726.1,191.4 718.1,192.4 712.1,191.4 710.1,190.4"/>
<polyline points="718.1,192.4 726.1,191.4 732.2,196.4 726.1,204.4 722.1,209.5 718.1,204.4 716.1,198.4"/>
<polyline points="714.1,194.4 715.1,210.5 716.1,224.5 720.1,236.6 724.1,244.6 728.2,252.6"/>
<polyline points="720.1,204.4 722.1,220.5 726.1,232.5 730.2,240.6 732.2,252.6"/>
<polyline points="776.4,99.0 784.4,104.0 786.4,110.0 786.4,113.1"/>
<polyline points="786.4,113.1 788.4,124.1 792.4,132.1 794.4,136.1 790.4,128.1 788.4,120.1"/>
<polyline points="728.2,148.2 738.2,139.2"/>
<polyline points="573.0,131.3 578.4,121.8 584.0,122.3"/>
<polyline points="696.4,340.6 703.0,338.5 709.2,336.7" stroke-width="4.5"/>
</g>
<polygon points="383.2,67.0 386.2,65.8 386.2,63.4 389.9,63.4 390.5,65.8 392.9,66.4 394.7,68.9 394.1,71.3 396.5,71.9 400.1,68.9 404.3,68.3 408.5,69.5 408.5,73.1 406.1,74.9 404.9,80.3 404.3,88.7 402.5,93.6 400.1,95.4 398.9,94.2 395.3,91.1 390.5,88.1 390.5,86.3 392.3,86.3 397.1,88.7 398.3,85.1 396.5,82.7 393.5,81.5 393.5,79.1 395.9,77.9 391.1,76.7 390.5,73.1 386.8,70.7 383.2,70.1" fill="#000"/>
<circle cx="492.5" cy="124.5" r="3.0" fill="none" stroke="#000" stroke-width="2"/>
<circle cx="479" cy="143.5" r="2.2" fill="#000"/>
<circle cx="471" cy="158.5" r="2.6" fill="none" stroke="#000" stroke-width="2"/>
<circle cx="460.5" cy="176.5" r="1.6" fill="#000"/>
<polygon points="246.20,239.50 248.49,245.14 254.57,245.58 249.91,249.51 251.37,255.42 246.20,252.20 241.03,255.42 242.49,249.51 237.83,245.58 243.91,245.14" fill="none" stroke="#000" stroke-width="2.6" stroke-linejoin="miter"/>
<polygon points="339.00,325.50 341.29,331.14 347.37,331.58 342.71,335.51 344.17,341.42 339.00,338.20 333.83,341.42 335.29,335.51 330.63,331.58 336.71,331.14" fill="none" stroke="#000" stroke-width="2.6" stroke-linejoin="miter"/>
<rect x="76.00" y="53.00" width="756.00" height="3.20" fill="#000"/>
<rect x="76.00" y="590.00" width="756.00" height="3.80" fill="#000"/>
<rect x="76.00" y="53.00" width="4.00" height="541.00" fill="#000"/>
<rect x="829.00" y="53.00" width="3.00" height="541.00" fill="#000"/>
<rect x="76.50" y="35.00" width="3.00" height="18.00" fill="#000"/>
<rect x="76.50" y="594.00" width="3.00" height="18.00" fill="#000"/>
<rect x="184.00" y="44.00" width="3.00" height="9.00" fill="#000"/>
<rect x="184.00" y="594.00" width="3.00" height="9.00" fill="#000"/>
<rect x="291.50" y="44.00" width="3.00" height="9.00" fill="#000"/>
<rect x="291.50" y="594.00" width="3.00" height="9.00" fill="#000"/>
<rect x="399.00" y="35.00" width="3.00" height="18.00" fill="#000"/>
<rect x="399.00" y="594.00" width="3.00" height="18.00" fill="#000"/>
<rect x="506.50" y="44.00" width="3.00" height="9.00" fill="#000"/>
<rect x="506.50" y="594.00" width="3.00" height="9.00" fill="#000"/>
<rect x="614.00" y="44.00" width="3.00" height="9.00" fill="#000"/>
<rect x="614.00" y="594.00" width="3.00" height="9.00" fill="#000"/>
<rect x="721.50" y="35.00" width="3.00" height="18.00" fill="#000"/>
<rect x="721.50" y="594.00" width="3.00" height="18.00" fill="#000"/>
<rect x="829.00" y="44.00" width="3.00" height="9.00" fill="#000"/>
<rect x="829.00" y="594.00" width="3.00" height="9.00" fill="#000"/>
<rect x="67.00" y="52.90" width="9.00" height="3.20" fill="#000"/>
<rect x="832.00" y="52.90" width="9.00" height="3.20" fill="#000"/>
<rect x="67.00" y="106.65" width="9.00" height="3.20" fill="#000"/>
<rect x="832.00" y="106.65" width="9.00" height="3.20" fill="#000"/>
<rect x="58.00" y="160.40" width="18.00" height="3.20" fill="#000"/>
<rect x="832.00" y="160.40" width="18.00" height="3.20" fill="#000"/>
<rect x="67.00" y="214.15" width="9.00" height="3.20" fill="#000"/>
<rect x="832.00" y="214.15" width="9.00" height="3.20" fill="#000"/>
<rect x="67.00" y="267.90" width="9.00" height="3.20" fill="#000"/>
<rect x="832.00" y="267.90" width="9.00" height="3.20" fill="#000"/>
<rect x="67.00" y="321.65" width="9.00" height="3.20" fill="#000"/>
<rect x="832.00" y="321.65" width="9.00" height="3.20" fill="#000"/>
<rect x="58.00" y="375.40" width="18.00" height="3.20" fill="#000"/>
<rect x="832.00" y="375.40" width="18.00" height="3.20" fill="#000"/>
<rect x="67.00" y="429.15" width="9.00" height="3.20" fill="#000"/>
<rect x="832.00" y="429.15" width="9.00" height="3.20" fill="#000"/>
<rect x="67.00" y="482.90" width="9.00" height="3.20" fill="#000"/>
<rect x="832.00" y="482.90" width="9.00" height="3.20" fill="#000"/>
<rect x="67.00" y="536.65" width="9.00" height="3.20" fill="#000"/>
<rect x="832.00" y="536.65" width="9.00" height="3.20" fill="#000"/>
<rect x="58.00" y="590.40" width="18.00" height="3.20" fill="#000"/>
<rect x="832.00" y="590.40" width="18.00" height="3.20" fill="#000"/>
<g style="opacity:0.999">
<text transform="translate(75.87,26.21) scale(0.3064,0.2974)" font-size="100" stroke="#000" stroke-width="2.2">CO col BB 6 Oct</text>
<text transform="translate(80.46,45.50) scale(0.2473,0.2365)" font-size="100" stroke="#000" stroke-width="2.2">(1E18*molec/cm2)</text>
<text transform="translate(622.57,21.70) scale(0.3069,0.2859)" font-size="100" stroke="#000" stroke-width="2.2">2018-10-19_03</text>
<text transform="translate(29.12,171.28) scale(0.2600,0.2603)" font-size="100" stroke="#000" stroke-width="2.2">0</text>
<text transform="translate(-3.20,386.27) scale(0.2644,0.2644)" font-size="100" stroke="#000" stroke-width="2.2">20S</text>
<text transform="translate(-3.20,601.47) scale(0.2644,0.2644)" font-size="100" stroke="#000" stroke-width="2.2">40S</text>
<text transform="translate(51.96,646.07) scale(0.2466,0.2644)" font-size="100" stroke="#000" stroke-width="2.2">30W</text>
<text transform="translate(393.01,646.26) scale(0.2640,0.2712)" font-size="100" stroke="#000" stroke-width="2.2">0</text>
<text transform="translate(701.16,646.45) scale(0.2459,0.2740)" font-size="100" stroke="#000" stroke-width="2.2">30E</text>
<text transform="translate(193.84,744.33) scale(0.2519,0.2329)" font-size="100" stroke="#000" stroke-width="2.2">0.002</text>
<text transform="translate(305.21,744.33) scale(0.2293,0.2329)" font-size="100" stroke="#000" stroke-width="2.2">0.01</text>
<text transform="translate(404.27,744.53) scale(0.2447,0.2329)" font-size="100" stroke="#000" stroke-width="2.2">0.05</text>
<text transform="translate(512.25,744.53) scale(0.2500,0.2329)" font-size="100" stroke="#000" stroke-width="2.2">0.2</text>
<text transform="translate(625.77,744.75) scale(0.2451,0.2451)" font-size="100" stroke="#000" stroke-width="2.2">1</text>
<text transform="translate(726.84,744.52) scale(0.2531,0.2417)" font-size="100" stroke="#000" stroke-width="2.2">5</text>
</g>
<rect x="124.00" y="665" width="50.80" height="47.5" fill="#ffffff" stroke="#000" stroke-width="2.4"/>
<rect x="174.80" y="665" width="50.80" height="47.5" fill="#aaaaff" stroke="#000" stroke-width="2.4"/>
<rect x="225.60" y="665" width="50.80" height="47.5" fill="#5a5aff" stroke="#000" stroke-width="2.4"/>
<rect x="276.40" y="665" width="50.80" height="47.5" fill="#0000ff" stroke="#000" stroke-width="2.4"/>
<rect x="327.20" y="665" width="50.80" height="47.5" fill="#0036ae" stroke="#000" stroke-width="2.4"/>
<rect x="378.00" y="665" width="50.80" height="47.5" fill="#077560" stroke="#000" stroke-width="2.4"/>
<rect x="428.80" y="665" width="50.80" height="47.5" fill="#0aa814" stroke="#000" stroke-width="2.4"/>
<rect x="479.60" y="665" width="50.80" height="47.5" fill="#50c80a" stroke="#000" stroke-width="2.4"/>
<rect x="530.40" y="665" width="50.80" height="47.5" fill="#a5e100" stroke="#000" stroke-width="2.4"/>
<rect x="581.20" y="665" width="50.80" height="47.5" fill="#f5f500" stroke="#000" stroke-width="2.4"/>
<rect x="632.00" y="665" width="50.80" height="47.5" fill="#ffb400" stroke="#000" stroke-width="2.4"/>
<rect x="682.80" y="665" width="50.80" height="47.5" fill="#ff5f00" stroke="#000" stroke-width="2.4"/>
<rect x="733.60" y="665" width="50.80" height="47.5" fill="#ff0a00" stroke="#000" stroke-width="2.4"/>
</svg></body></html>
